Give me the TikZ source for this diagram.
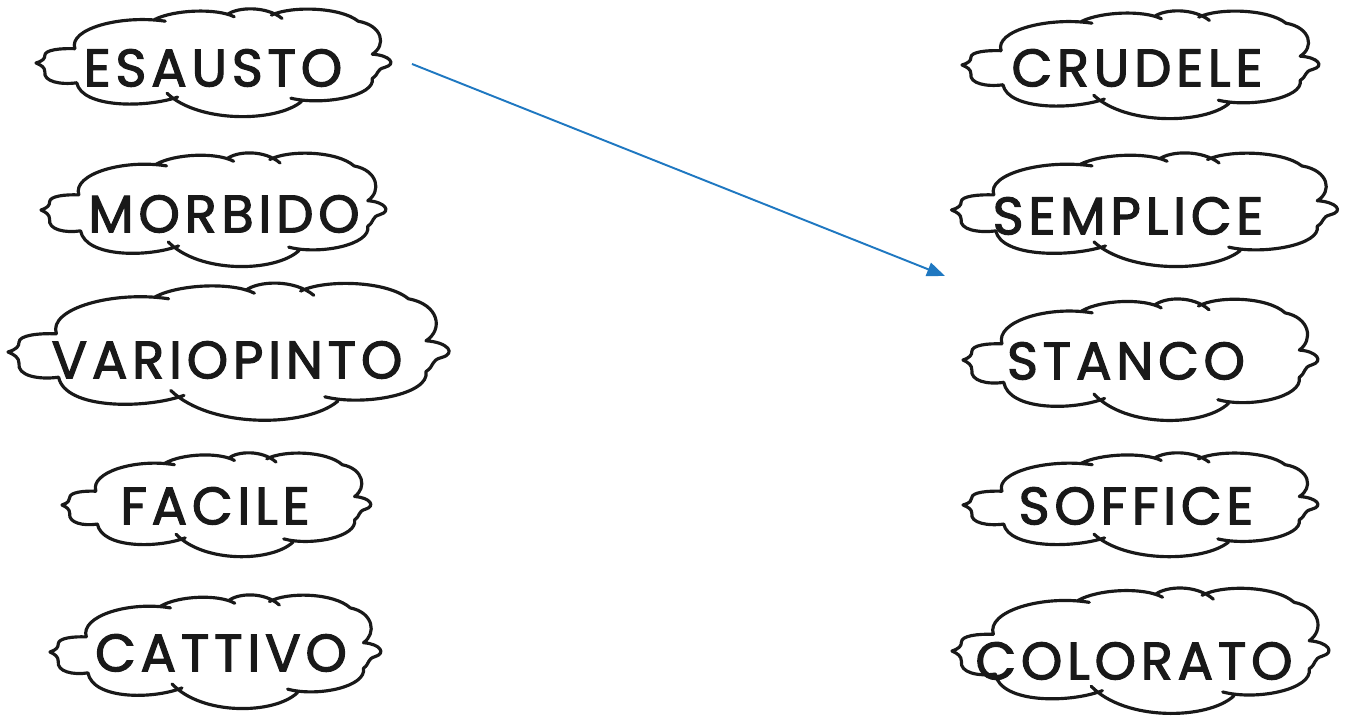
\documentclass[tikz,border=0pt]{standalone}
\usepackage{fontspec}
\setmainfont{Poppins}[LetterSpace=9, FakeBold=2.2]
\usepackage{tikz}
\usetikzlibrary{positioning, arrows.meta, calc}
\usepackage{xcolor}
\definecolor{linkblue}{RGB}{31,120,193}

% hand-drawn cloud round a word node:
% #1 node, #2/#3 offset of the cloud centre, #4/#5 half width/height (cm)
\newcommand{\cloudring}[5]{%
  \draw[cloudline, shift={($(#1.center)+(#2,#3)$)}, xscale=#4, yscale=#5]
    (-0.78,0.26) .. controls (-0.82,0.62) and (-0.52,0.88) .. (-0.27,0.76)
    (-0.33,0.79) .. controls (-0.22,0.97) and (0.02,1.00) .. (0.12,0.84)
    (0.08,0.88) .. controls (0.14,1.02) and (0.30,1.04) .. (0.39,0.81)
    (0.33,0.87) .. controls (0.44,1.04) and (0.72,1.02) .. (0.82,0.76)
    .. controls (0.96,0.68) and (0.98,0.32) .. (0.90,0.16)
    .. controls (1.00,0.14) and (1.04,-0.02) .. (0.97,-0.08)
    .. controls (0.92,-0.12) and (0.94,-0.20) .. (0.90,-0.28)
    .. controls (0.92,-0.60) and (0.62,-0.78) .. (0.44,-0.64)
    (0.50,-0.70) .. controls (0.36,-1.08) and (-0.08,-1.10) .. (-0.26,-0.55)
    (-0.20,-0.62) .. controls (-0.38,-0.82) and (-0.74,-0.82) .. (-0.77,-0.36)
    .. controls (-0.86,-0.40) and (-0.96,-0.34) .. (-0.95,-0.16)
    .. controls (-0.95,-0.08) and (-0.97,-0.04) .. (-1.00,0.00)
    .. controls (-0.96,0.04) and (-0.95,0.08) .. (-0.95,0.14)
    .. controls (-0.95,0.24) and (-0.86,0.27) .. (-0.78,0.26);}

\begin{document}
\begin{tikzpicture}[
    every node/.style={font=\fontsize{30}{33}\selectfont},
    word/.style={inner sep=0pt, text height=0.735cm, text depth=0pt, text=black!90},
    cloudline/.style={line width=1.8pt, line join=round, line cap=round, black!90},
    arrow/.style={-{Triangle[length=3.6mm, width=2.8mm]}, line width=1.1pt, linkblue},
]
\useasboundingbox (0,0) rectangle (26.9,14.44);

% ── Left column ──
\node[word] (esausto)    at (4.26,13.08) {ESAUSTO};
\node[word] (morbido)    at (4.48,10.16) {MORBIDO};
\node[word] (variopinto) at (4.54,7.24)  {VARIOPINTO};
\node[word] (facile)     at (4.30,4.32)  {FACILE};
\node[word] (cattivo)    at (4.42,1.38)  {CATTIVO};

% ── Right column ──
\node[word] (crudele)    at (22.74,13.08) {CRUDELE};
\node[word] (semplice)   at (22.56,10.12) {SEMPLICE};
\node[word] (stanco)     at (22.52,7.22)  {STANCO};
\node[word] (soffice)    at (22.72,4.32)  {SOFFICE};
\node[word] (colorato)   at (22.68,1.22)  {COLORATO};

% ── Clouds ──
\cloudring{esausto}{0}{0.10}{3.54}{1.10}
\cloudring{morbido}{-0.22}{0.08}{3.44}{1.16}
\cloudring{variopinto}{0.02}{0.16}{4.40}{1.40}
\cloudring{facile}{0.02}{0.02}{3.08}{1.06}
\cloudring{cattivo}{-0.12}{0.02}{3.30}{1.16}
\cloudring{crudele}{0.06}{0.06}{3.56}{1.10}
\cloudring{semplice}{0.32}{0.12}{3.85}{1.16}
\cloudring{stanco}{0.28}{0.02}{3.54}{1.24}
\cloudring{soffice}{0.08}{0.02}{3.54}{1.06}
\cloudring{colorato}{0.12}{0.20}{3.76}{1.28}

% ── Example link ──
\coordinate (tip) at ($(stanco.center)+(-3.62,1.70)$);
\draw[arrow] ($(esausto.center)+(3.98,0.08)$) -- (tip);

\end{tikzpicture}
\end{document}
